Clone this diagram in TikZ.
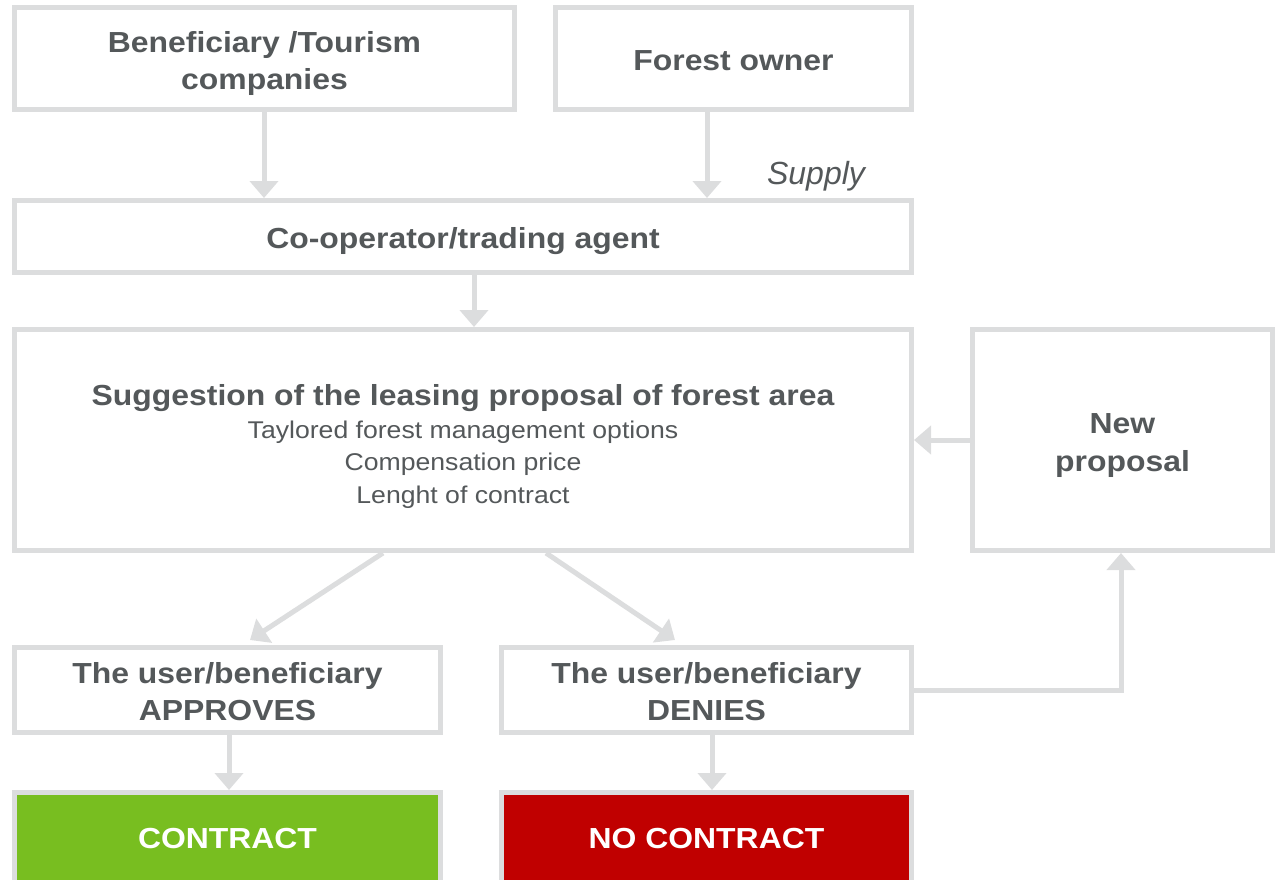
\documentclass[tikz,border=0pt]{standalone}
\usepackage{fontspec}
\usepackage{array}
\setmainfont[FakeStretch=1.1]{Liberation Sans}
\newfontfamily\plainsans{Liberation Sans}
\usetikzlibrary{arrows.meta}
\definecolor{bordergray}{HTML}{DCDDDE}
\definecolor{txtgray}{HTML}{54585A}
\definecolor{okgreen}{HTML}{78BE20}
\definecolor{nored}{HTML}{C00000}
% shifted block of centred lines
\newcommand{\tb}[2]{\raisebox{-#1}[\height][\depth]{\begin{tabular}{@{}c@{}}#2\end{tabular}}}
\newcommand{\subtxt}[1]{{\fontsize{24.2}{30}\selectfont\mdseries #1}}
\tikzset{
  box/.style={draw=bordergray, line width=5pt, fill=white, rectangle, inner sep=0pt,
    text=txtgray, font=\fontsize{29}{37}\selectfont\bfseries},
  conn/.style={draw=bordergray, line width=5pt, -{Triangle[width=28pt,length=17pt]}},
}
\begin{document}
\begin{tikzpicture}[x=1pt,y=-1pt]
\useasboundingbox (0,0) rectangle (1278,879);
\clip (0,0) rectangle (1278,879);
\node[box, minimum width=500pt, minimum height=102pt] (b1) at (264.5,58.5) {\tb{5.1pt}{Beneficiary /Tourism\\companies}};
\node[box, minimum width=356pt, minimum height=102pt] (b2) at (733.5,58.5) {\tb{4.5pt}{Forest owner}};
\node[box, minimum width=897pt, minimum height=72pt] (coop) at (463,236.5) {\tb{4.5pt}{Co-operator/trading agent}};
\node[box, font=\fontsize{29}{30}\selectfont\bfseries, minimum width=897pt, minimum height=221pt] (sug) at (463,440) {\tb{8.3pt}{Suggestion of the leasing proposal of forest area\\[3pt]
  \subtxt{Taylored forest management options}\\[2.5pt]
  \subtxt{Compensation price}\\[2.5pt]
  \subtxt{Lenght of contract}}};
\node[box, minimum width=300pt, minimum height=221pt] (newp) at (1122.5,440) {\tb{5pt}{New\\[1pt]proposal}};
\node[box, minimum width=426pt, minimum height=85pt] (appr) at (227.5,690) {\tb{4.6pt}{The user/beneficiary\\APPROVES}};
\node[box, minimum width=410pt, minimum height=85pt] (deny) at (706.5,690) {\tb{4.6pt}{The user/beneficiary\\DENIES}};
\node[box, fill=okgreen, text=white, minimum width=426pt, minimum height=91pt] (con) at (227.5,838) {\tb{3pt}{CONTRACT}};
\node[box, fill=nored, text=white, minimum width=410pt, minimum height=91pt] (nocon) at (706.5,838) {\tb{3pt}{NO CONTRACT}};
\node[text=txtgray, font=\plainsans\fontsize{32}{37}\selectfont\itshape] (supply) at (816,176) {Supply};

\draw[conn] (b1.south -| 264,0) -- (coop.north -| 264,0);
\draw[conn] (b2.south -| 707,0) -- (coop.north -| 707,0);
\draw[conn] (coop.south -| 474,0) -- (sug.north -| 474,0);
\draw[conn] (newp.west) -- (sug.east);
\draw[conn] (sug.south -| 383,0) -- (250,640);
\draw[conn] (sug.south -| 546,0) -- (675,640);
\draw[conn] (deny.east) -- (deny.east -| 1121,0) -- (newp.south -| 1121,0);
\draw[conn] (appr.south -| 229,0) -- (con.north -| 229,0);
\draw[conn] (deny.south -| 712,0) -- (nocon.north -| 712,0);
\end{tikzpicture}
\end{document}
